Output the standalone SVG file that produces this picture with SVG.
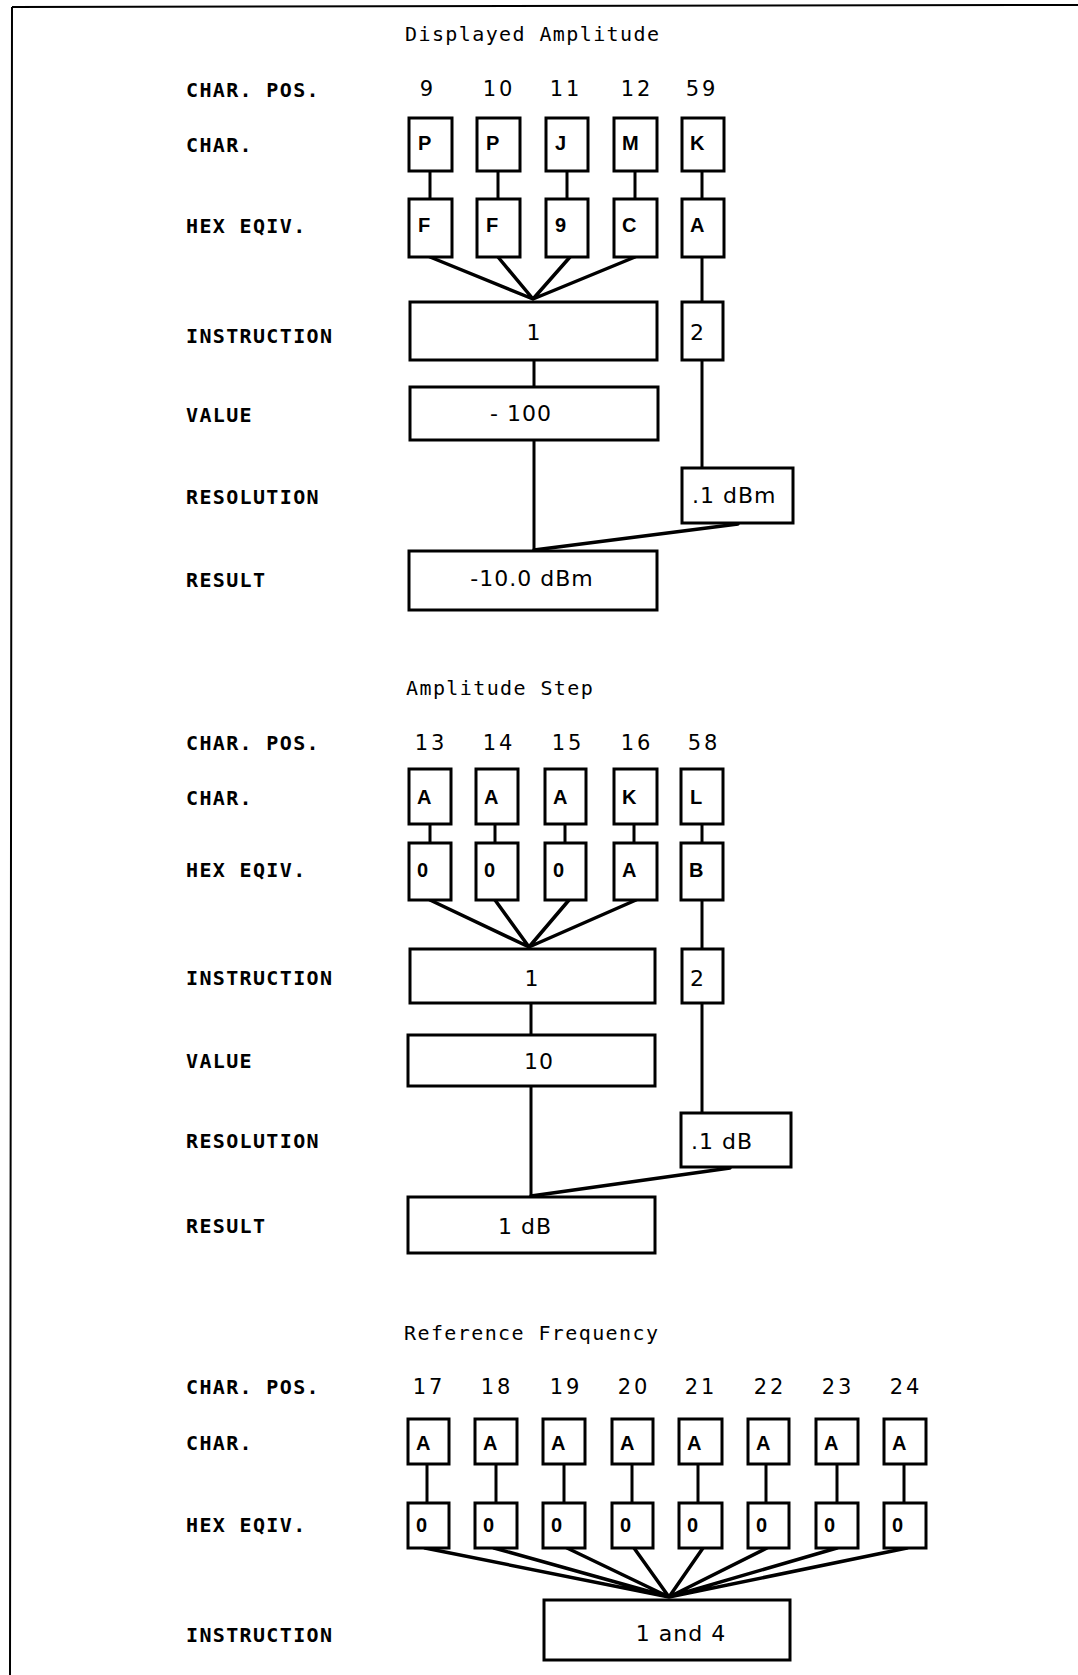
<svg xmlns="http://www.w3.org/2000/svg" width="1078" height="1675" viewBox="0 0 1078 1675">
<style>
.bg{fill:#fff}
.frame{fill:none;stroke:#000;stroke-width:2}
.box{fill:#fff;stroke:#000;stroke-width:3}
.ln{fill:none;stroke:#000;stroke-width:3;stroke-linecap:round}
.fan{fill:none;stroke:#000;stroke-width:3.5;stroke-linecap:round}
.title{font-family:"DejaVu Sans Mono","Liberation Mono",monospace;font-size:20px;letter-spacing:1.4px;fill:#000}
.lab{font-family:"DejaVu Sans Mono","Liberation Mono",monospace;font-size:20px;font-weight:bold;letter-spacing:1.35px;fill:#000}
.num{font-family:"DejaVu Sans","Liberation Sans",sans-serif;font-size:21px;letter-spacing:3px;text-anchor:middle;fill:#000}
.ch{font-family:"Liberation Sans","DejaVu Sans",sans-serif;font-size:20px;font-weight:bold;fill:#000}
.bt{font-family:"DejaVu Sans","Liberation Sans",sans-serif;font-size:22px;letter-spacing:1px;fill:#000}
.mid{text-anchor:middle}
</style>
<rect class="bg" x="0" y="0" width="1078" height="1675"/>
<g id="frame">
<path class="frame" d="M12,7 L1078,5 M12,7 L10,1675"/>
</g>

<!-- ================= Section 1 ================= -->
<g id="s1-labels">
<text class="title" x="405" y="41">Displayed Amplitude</text>
<text class="lab" x="186" y="97">CHAR. POS.</text>
<text class="lab" x="186" y="152">CHAR.</text>
<text class="lab" x="186" y="233">HEX EQIV.</text>
<text class="lab" x="186" y="343">INSTRUCTION</text>
<text class="lab" x="186" y="422">VALUE</text>
<text class="lab" x="186" y="504">RESOLUTION</text>
<text class="lab" x="186" y="587">RESULT</text>
<text class="num" x="428" y="96">9</text>
<text class="num" x="499" y="96">10</text>
<text class="num" x="566" y="96">11</text>
<text class="num" x="637" y="96">12</text>
<text class="num" x="702" y="96">59</text>
</g>
<g id="s1-connectors">
<path class="ln" d="M430,171 V199 M498,171 V199 M567,171 V199 M635,171 V199 M702,171 V199"/>
<path class="fan" d="M430,257 L533,299 M498,257 L533,299 M570,257 L533,299 M635,257 L533,299"/>
<path class="ln" d="M702,257 V302 M534,360 V387 M534,440 V551 M702,360 V468"/>
<path class="fan" d="M738,524 L534,550"/>
</g>
<g id="s1-c1"><rect class="box" x="409" y="118" width="43" height="53"/><text class="ch" x="418" y="150">P</text></g>
<g id="s1-c2"><rect class="box" x="477" y="118" width="43" height="53"/><text class="ch" x="486" y="150">P</text></g>
<g id="s1-c3"><rect class="box" x="546" y="118" width="42" height="53"/><text class="ch" x="555" y="150">J</text></g>
<g id="s1-c4"><rect class="box" x="614" y="118" width="43" height="53"/><text class="ch" x="622" y="150">M</text></g>
<g id="s1-c5"><rect class="box" x="682" y="118" width="42" height="53"/><text class="ch" x="690" y="150">K</text></g>
<g id="s1-h1"><rect class="box" x="409" y="199" width="43" height="58"/><text class="ch" x="418" y="232">F</text></g>
<g id="s1-h2"><rect class="box" x="477" y="199" width="43" height="58"/><text class="ch" x="486" y="232">F</text></g>
<g id="s1-h3"><rect class="box" x="546" y="199" width="42" height="58"/><text class="ch" x="555" y="232">9</text></g>
<g id="s1-h4"><rect class="box" x="614" y="199" width="43" height="58"/><text class="ch" x="622" y="232">C</text></g>
<g id="s1-h5"><rect class="box" x="682" y="199" width="42" height="58"/><text class="ch" x="690" y="232">A</text></g>
<g id="s1-instr"><rect class="box" x="410" y="302" width="247" height="58"/><text class="bt mid" x="534" y="340">1</text></g>
<g id="s1-instr2"><rect class="box" x="682" y="302" width="41" height="58"/><text class="bt" x="690" y="340">2</text></g>
<g id="s1-value"><rect class="box" x="410" y="387" width="248" height="53"/><text class="bt mid" x="521" y="421">- 100</text></g>
<g id="s1-res"><rect class="box" x="682" y="468" width="111" height="55"/><text class="bt" x="692" y="503">.1 dBm</text></g>
<g id="s1-result"><rect class="box" x="409" y="551" width="248" height="59"/><text class="bt mid" x="532" y="586">-10.0 dBm</text></g>

<!-- ================= Section 2 ================= -->
<g id="s2-labels">
<text class="title" x="406" y="695">Amplitude Step</text>
<text class="lab" x="186" y="750">CHAR. POS.</text>
<text class="lab" x="186" y="805">CHAR.</text>
<text class="lab" x="186" y="877">HEX EQIV.</text>
<text class="lab" x="186" y="985">INSTRUCTION</text>
<text class="lab" x="186" y="1068">VALUE</text>
<text class="lab" x="186" y="1148">RESOLUTION</text>
<text class="lab" x="186" y="1233">RESULT</text>
<text class="num" x="431" y="750">13</text>
<text class="num" x="499" y="750">14</text>
<text class="num" x="568" y="750">15</text>
<text class="num" x="637" y="750">16</text>
<text class="num" x="704" y="750">58</text>
</g>
<g id="s2-connectors">
<path class="ln" d="M430,824 V843 M495,824 V843 M565,824 V843 M634,824 V843 M702,824 V843"/>
<path class="fan" d="M430,900 L529,947 M495,900 L529,947 M569,900 L529,947 M636,900 L529,947"/>
<path class="ln" d="M702,900 V949 M531,1003 V1035 M531,1086 V1197 M702,1003 V1113"/>
<path class="fan" d="M730,1168 L531,1196"/>
</g>
<g id="s2-c1"><rect class="box" x="409" y="769" width="42" height="55"/><text class="ch" x="417" y="804">A</text></g>
<g id="s2-c2"><rect class="box" x="476" y="769" width="42" height="55"/><text class="ch" x="484" y="804">A</text></g>
<g id="s2-c3"><rect class="box" x="545" y="769" width="41" height="55"/><text class="ch" x="553" y="804">A</text></g>
<g id="s2-c4"><rect class="box" x="614" y="769" width="43" height="55"/><text class="ch" x="622" y="804">K</text></g>
<g id="s2-c5"><rect class="box" x="681" y="769" width="42" height="55"/><text class="ch" x="690" y="804">L</text></g>
<g id="s2-h1"><rect class="box" x="409" y="843" width="42" height="57"/><text class="ch" x="417" y="877">0</text></g>
<g id="s2-h2"><rect class="box" x="476" y="843" width="42" height="57"/><text class="ch" x="484" y="877">0</text></g>
<g id="s2-h3"><rect class="box" x="545" y="843" width="41" height="57"/><text class="ch" x="553" y="877">0</text></g>
<g id="s2-h4"><rect class="box" x="614" y="843" width="43" height="57"/><text class="ch" x="622" y="877">A</text></g>
<g id="s2-h5"><rect class="box" x="681" y="843" width="42" height="57"/><text class="ch" x="689" y="877">B</text></g>
<g id="s2-instr"><rect class="box" x="410" y="949" width="245" height="54"/><text class="bt mid" x="532" y="986">1</text></g>
<g id="s2-instr2"><rect class="box" x="682" y="949" width="41" height="54"/><text class="bt" x="690" y="986">2</text></g>
<g id="s2-value"><rect class="box" x="408" y="1035" width="247" height="51"/><text class="bt mid" x="539" y="1069">10</text></g>
<g id="s2-res"><rect class="box" x="681" y="1113" width="110" height="54"/><text class="bt" x="691" y="1149">.1 dB</text></g>
<g id="s2-result"><rect class="box" x="408" y="1197" width="247" height="56"/><text class="bt mid" x="525" y="1234">1 dB</text></g>

<!-- ================= Section 3 ================= -->
<g id="s3-labels">
<text class="title" x="404" y="1340">Reference Frequency</text>
<text class="lab" x="186" y="1394">CHAR. POS.</text>
<text class="lab" x="186" y="1450">CHAR.</text>
<text class="lab" x="186" y="1532">HEX EQIV.</text>
<text class="lab" x="186" y="1642">INSTRUCTION</text>
<text class="num" x="429" y="1394">17</text>
<text class="num" x="497" y="1394">18</text>
<text class="num" x="566" y="1394">19</text>
<text class="num" x="634" y="1394">20</text>
<text class="num" x="701" y="1394">21</text>
<text class="num" x="770" y="1394">22</text>
<text class="num" x="838" y="1394">23</text>
<text class="num" x="906" y="1394">24</text>
</g>
<g id="s3-connectors">
<path class="ln" d="M427,1464 V1503 M496,1464 V1503 M564,1464 V1503 M632,1464 V1503 M698,1464 V1503 M766,1464 V1503 M837,1464 V1503 M904,1464 V1503"/>
<path class="fan" d="M425,1548 L669,1597 M494,1548 L669,1597 M567,1548 L669,1597 M634,1548 L669,1597 M703,1548 L669,1597 M767,1548 L669,1597 M837,1548 L669,1597 M907,1548 L669,1597"/>
</g>
<g id="s3-c1"><rect class="box" x="408" y="1419" width="41" height="45"/><text class="ch" x="416" y="1450">A</text></g>
<g id="s3-c2"><rect class="box" x="475" y="1419" width="42" height="45"/><text class="ch" x="483" y="1450">A</text></g>
<g id="s3-c3"><rect class="box" x="543" y="1419" width="42" height="45"/><text class="ch" x="551" y="1450">A</text></g>
<g id="s3-c4"><rect class="box" x="612" y="1419" width="41" height="45"/><text class="ch" x="620" y="1450">A</text></g>
<g id="s3-c5"><rect class="box" x="679" y="1419" width="43" height="45"/><text class="ch" x="687" y="1450">A</text></g>
<g id="s3-c6"><rect class="box" x="748" y="1419" width="41" height="45"/><text class="ch" x="756" y="1450">A</text></g>
<g id="s3-c7"><rect class="box" x="816" y="1419" width="42" height="45"/><text class="ch" x="824" y="1450">A</text></g>
<g id="s3-c8"><rect class="box" x="884" y="1419" width="42" height="45"/><text class="ch" x="892" y="1450">A</text></g>
<g id="s3-h1"><rect class="box" x="408" y="1503" width="41" height="45"/><text class="ch" x="416" y="1532">0</text></g>
<g id="s3-h2"><rect class="box" x="475" y="1503" width="42" height="45"/><text class="ch" x="483" y="1532">0</text></g>
<g id="s3-h3"><rect class="box" x="543" y="1503" width="42" height="45"/><text class="ch" x="551" y="1532">0</text></g>
<g id="s3-h4"><rect class="box" x="612" y="1503" width="41" height="45"/><text class="ch" x="620" y="1532">0</text></g>
<g id="s3-h5"><rect class="box" x="679" y="1503" width="43" height="45"/><text class="ch" x="687" y="1532">0</text></g>
<g id="s3-h6"><rect class="box" x="748" y="1503" width="41" height="45"/><text class="ch" x="756" y="1532">0</text></g>
<g id="s3-h7"><rect class="box" x="816" y="1503" width="42" height="45"/><text class="ch" x="824" y="1532">0</text></g>
<g id="s3-h8"><rect class="box" x="884" y="1503" width="42" height="45"/><text class="ch" x="892" y="1532">0</text></g>
<g id="s3-instr"><rect class="box" x="544" y="1600" width="246" height="60"/><text class="bt mid" x="681" y="1641">1 and 4</text></g>
</svg>
